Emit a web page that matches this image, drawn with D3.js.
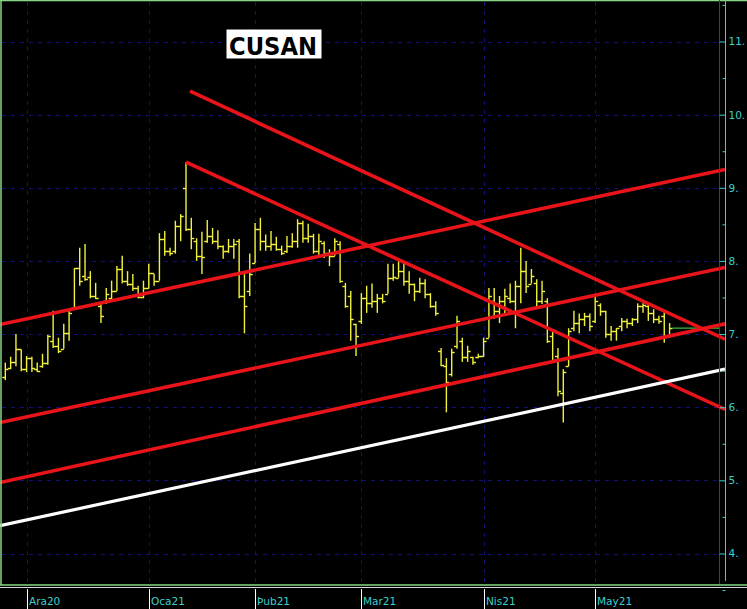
<!DOCTYPE html>
<html><head><meta charset="utf-8">
<script src="https://cdn.jsdelivr.net/npm/d3@7"></script>
<style>html,body{margin:0;padding:0;background:#000;overflow:hidden}svg{display:block}</style>
</head><body>
<script>
// ---- data ----
const title = "CUSAN";
const monthLabels = ["Ara20","Oca21","Þub21","Mar21","Nis21","May21"];
const monthIndex = [4,27,47,67,90,111];
const yTickValues = [4,5,6,7,8,9,10,11];
const yTickLabels = ["4.","5.","6.","7.","8.","9.","10.","11."];
const high = [6.61,6.69,7.00,6.79,6.70,6.69,6.61,6.73,6.99,7.32,6.95,7.14,7.32,7.90,8.18,8.23,7.86,7.70,7.41,7.63,
7.73,7.93,8.07,7.86,7.82,7.66,7.73,7.96,7.82,8.38,8.41,8.18,8.55,8.64,9.35,8.59,8.31,8.40,8.56,8.45,
8.42,8.21,8.30,8.30,8.30,7.82,8.10,8.52,8.59,8.36,8.41,8.33,8.21,8.34,8.38,8.57,8.55,8.51,8.37,8.37,
8.27,8.16,8.31,8.27,7.70,7.59,7.14,7.56,7.66,7.69,7.55,7.55,7.96,7.96,8.00,7.97,7.86,7.69,7.77,7.75,
7.56,7.45,6.81,6.67,6.80,7.25,6.95,6.84,6.69,6.73,6.95,7.63,7.63,7.52,7.62,7.69,7.73,8.18,8.00,7.89,
7.75,7.73,7.49,7.04,6.81,6.52,7.08,7.32,7.28,7.29,7.28,7.55,7.42,7.32,7.11,7.08,7.22,7.21,7.22,7.42,
7.42,7.41,7.34,7.25,7.32,7.15];
const low = [6.37,6.52,6.56,6.49,6.48,6.48,6.48,6.54,6.58,6.81,6.74,6.80,6.91,7.36,7.66,7.73,7.49,7.48,7.15,7.41,
7.45,7.59,7.69,7.66,7.59,7.49,7.49,7.62,7.66,7.73,8.07,8.07,8.10,8.27,8.41,8.16,8.00,7.82,8.25,8.23,
8.16,8.03,8.11,8.03,7.49,7.01,7.52,7.97,8.14,8.14,8.14,8.14,8.08,8.11,8.18,8.18,8.25,8.25,8.10,8.07,
8.04,7.93,8.07,7.70,7.36,6.91,6.70,7.14,7.29,7.36,7.29,7.42,7.55,7.73,7.77,7.66,7.55,7.45,7.56,7.49,
7.36,7.25,6.56,5.93,6.42,6.80,6.62,6.62,6.58,6.67,6.69,6.95,7.21,7.15,7.25,7.42,7.08,7.42,7.56,7.69,
7.36,7.41,6.88,6.61,6.15,5.79,6.56,7.04,7.01,7.11,7.04,7.15,7.25,6.95,6.91,6.91,7.04,7.08,7.11,7.15,
7.29,7.18,7.15,7.14,6.88,6.95];
const open = [6.41,6.53,6.62,6.79,6.52,6.67,6.52,6.56,6.61,6.91,6.84,6.80,7.01,7.36,7.90,7.79,7.78,7.52,7.38,7.45,
7.49,7.59,7.89,7.73,7.69,7.63,7.51,7.63,7.84,7.73,8.30,8.14,8.14,8.48,9.00,8.44,8.27,8.07,8.27,8.34,
8.27,8.21,8.14,8.21,8.27,7.52,7.59,7.97,8.44,8.27,8.21,8.23,8.16,8.14,8.21,8.27,8.52,8.31,8.34,8.14,
8.25,8.11,8.07,8.23,7.66,7.52,7.14,7.18,7.49,7.42,7.45,7.49,7.55,7.77,7.77,7.86,7.73,7.69,7.59,7.70,
7.55,7.38,6.77,6.56,6.45,6.84,6.91,6.69,6.69,6.69,6.70,6.95,7.45,7.32,7.45,7.49,7.45,7.66,7.86,7.69,
7.70,7.45,7.45,6.97,6.70,6.20,6.56,7.08,7.15,7.21,7.25,7.18,7.40,7.32,7.00,7.04,7.11,7.18,7.15,7.21,
7.38,7.38,7.29,7.21,7.25,6.97];
const close = [6.52,6.62,6.79,6.52,6.67,6.53,6.49,6.61,6.97,6.84,6.77,7.01,7.29,7.90,7.73,7.75,7.52,7.49,7.25,7.55,
7.59,7.89,7.73,7.69,7.63,7.51,7.63,7.84,7.73,8.30,8.14,8.11,8.48,8.62,8.44,8.31,8.07,8.05,8.34,8.27,
8.21,8.14,8.21,8.23,7.52,7.38,7.82,8.44,8.27,8.21,8.23,8.16,8.11,8.21,8.27,8.52,8.31,8.34,8.14,8.27,
8.11,8.07,8.27,7.73,7.38,7.21,6.97,7.49,7.42,7.45,7.49,7.45,7.77,7.78,7.86,7.73,7.69,7.59,7.70,7.55,
7.38,7.29,6.58,6.34,6.75,7.18,6.69,6.77,6.62,6.70,6.91,7.52,7.32,7.45,7.52,7.45,7.66,7.86,7.66,7.79,
7.45,7.59,6.91,6.65,6.22,6.48,7.04,7.15,7.21,7.25,7.11,7.45,7.32,7.00,7.04,7.08,7.18,7.15,7.21,7.38,
7.40,7.29,7.21,7.18,6.97,7.08];
// trend lines: [startIndex, startPrice, endIndex, endPrice]
const redLines = [
  [34.75,10.32,135.43,6.93],
  [34.0,9.35,135.43,5.97],
  [-1,7.13,135.43,9.25],
  [-1,5.79,135.43,7.91],
  [-1,4.97,135.43,7.14]
];
const whiteLines = [[-1,4.38,135.43,6.52]];

// ---- chart ----
const W = 747, H = 609;
const svg = d3.select("body").append("svg").attr("width", W).attr("height", H);
svg.append("rect").attr("width", W).attr("height", H).attr("fill", "#000");

const x = d3.scaleLinear().domain([-1, 134.3]).range([0, 719]);
const y = d3.scaleLinear().domain([4, 11]).range([553.5, 41.5]);

const gridColor = "#10107c";
const cyan = "#3ccfcf";

svg.append("defs").append("clipPath").attr("id","plot")
  .append("rect").attr("x",0).attr("y",0).attr("width",725).attr("height",584);

// grid
svg.append("g").selectAll("line").data(yTickValues).join("line")
  .attr("x1", 2).attr("x2", 720)
  .attr("y1", d => Math.round(y(d)) + 0.5).attr("y2", d => Math.round(y(d)) + 0.5)
  .attr("stroke", gridColor).attr("stroke-width", 1).attr("stroke-dasharray", "4,5");
svg.append("g").selectAll("line").data(monthIndex).join("line")
  .attr("x1", d => Math.round(x(d)) + 0.5).attr("x2", d => Math.round(x(d)) + 0.5)
  .attr("y1", 2).attr("y2", 584)
  .attr("stroke", gridColor).attr("stroke-width", 1).attr("stroke-dasharray", "4,5");

// title
svg.append("rect").attr("x", 226.5).attr("y", 29.5).attr("width", 95).attr("height", 29).attr("fill", "#fff");
svg.append("text").attr("x", 229).attr("y", 54.5).text(title)
  .attr("font-family", "DejaVu Sans").attr("font-weight", "bold").attr("font-size", 24)
  .attr("textLength", 88).attr("lengthAdjust", "spacingAndGlyphs").attr("fill", "#000");

// OHLC bars
const bars = high.map((h, i) => ({i, h, l: low[i], o: open[i], c: close[i]}));
const gb = svg.append("g").attr("stroke", "#f2f23a").attr("stroke-width", 1.4);
gb.selectAll("line.v").data(bars).join("line").attr("class","v")
  .attr("x1", d => x(d.i)).attr("x2", d => x(d.i))
  .attr("y1", d => y(d.h)).attr("y2", d => y(d.l));
gb.selectAll("line.o").data(bars).join("line").attr("class","o")
  .attr("x1", d => x(d.i) - 3).attr("x2", d => x(d.i))
  .attr("y1", d => Math.round(y(d.o)) + 0.5).attr("y2", d => Math.round(y(d.o)) + 0.5);
gb.selectAll("line.c").data(bars).join("line").attr("class","c")
  .attr("x1", d => x(d.i)).attr("x2", d => x(d.i) + 3)
  .attr("y1", d => Math.round(y(d.c)) + 0.5).attr("y2", d => Math.round(y(d.c)) + 0.5);

// last price line
const lastIdx = close.length - 1;
svg.append("line")
  .attr("x1", x(lastIdx) + 3).attr("x2", 719)
  .attr("y1", y(close[lastIdx])).attr("y2", y(close[lastIdx]))
  .attr("stroke", "#3dbd3d").attr("stroke-width", 1.2);

// trend lines
const gl = svg.append("g").attr("clip-path", "url(#plot)");
gl.selectAll("line.red").data(redLines).join("line").attr("class","red")
  .attr("x1", d => x(d[0])).attr("y1", d => y(d[1]))
  .attr("x2", d => x(d[2])).attr("y2", d => y(d[3]))
  .attr("stroke", "#e8141a").attr("stroke-width", 3.6);
gl.selectAll("line.white").data(whiteLines).join("line").attr("class","white")
  .attr("x1", d => x(d[0])).attr("y1", d => y(d[1]))
  .attr("x2", d => x(d[2])).attr("y2", d => y(d[3]))
  .attr("stroke", "#ffffff").attr("stroke-width", 3.2);

// frame lines
svg.append("line").attr("x1",0).attr("x2",W).attr("y1",0.5).attr("y2",0.5).attr("stroke","#86d886").attr("stroke-width",1.5);
svg.append("line").attr("x1",1).attr("x2",1).attr("y1",0).attr("y2",585).attr("stroke","#86d886").attr("stroke-width",1.5);
svg.append("line").attr("x1",719.5).attr("x2",719.5).attr("y1",0).attr("y2",585).attr("stroke","#7a1c7a").attr("stroke-width",1);
svg.append("line").attr("x1",0).attr("x2",W).attr("y1",585).attr("y2",585).attr("stroke","#86d886").attr("stroke-width",1.6);
svg.append("line").attr("x1",0).attr("x2",W).attr("y1",587.5).attr("y2",587.5).attr("stroke","#d8d8d8").attr("stroke-width",1);

// right axis
const minorTicks = d3.range(3.5, 11.6, 0.5).filter(v => v % 1 !== 0);
const axisMajor = d3.axisLeft(y).tickValues(yTickValues).tickSize(6).tickFormat("");
const axisMinor = d3.axisLeft(y).tickValues(minorTicks).tickSize(3).tickFormat("");
const ga1 = svg.append("g").attr("transform", "translate(725.5,0)").call(axisMajor);
const ga2 = svg.append("g").attr("transform", "translate(725.5,0)").call(axisMinor);
[ga1, ga2].forEach(g => { g.select(".domain").remove(); g.selectAll("line").attr("stroke", cyan); });
svg.append("line").attr("x1",725.5).attr("x2",725.5).attr("y1",0).attr("y2",581).attr("stroke",cyan).attr("stroke-width",1);
const axisLabels = d3.axisRight(y).tickValues(yTickValues).tickSize(0).tickPadding(3)
  .tickFormat((d, i) => yTickLabels[i]);
const ga3 = svg.append("g").attr("transform", "translate(725.5,0)").call(axisLabels);
ga3.select(".domain").remove();
ga3.selectAll("text").attr("fill", cyan).attr("font-family", "DejaVu Sans").attr("font-size", 10.5);

// bottom axis
const gx = svg.append("g");
gx.selectAll("line").data(monthIndex).join("line")
  .attr("x1", d => Math.round(x(d)) + 0.5).attr("x2", d => Math.round(x(d)) + 0.5)
  .attr("y1", 589).attr("y2", 609).attr("stroke", "#fff").attr("stroke-width", 1);
gx.selectAll("text").data(monthIndex).join("text")
  .attr("x", d => Math.round(x(d)) + 2).attr("y", 605)
  .text((d, i) => monthLabels[i])
  .attr("fill", cyan).attr("font-family", "DejaVu Sans").attr("font-size", 10.5);
</script>
</body></html>
